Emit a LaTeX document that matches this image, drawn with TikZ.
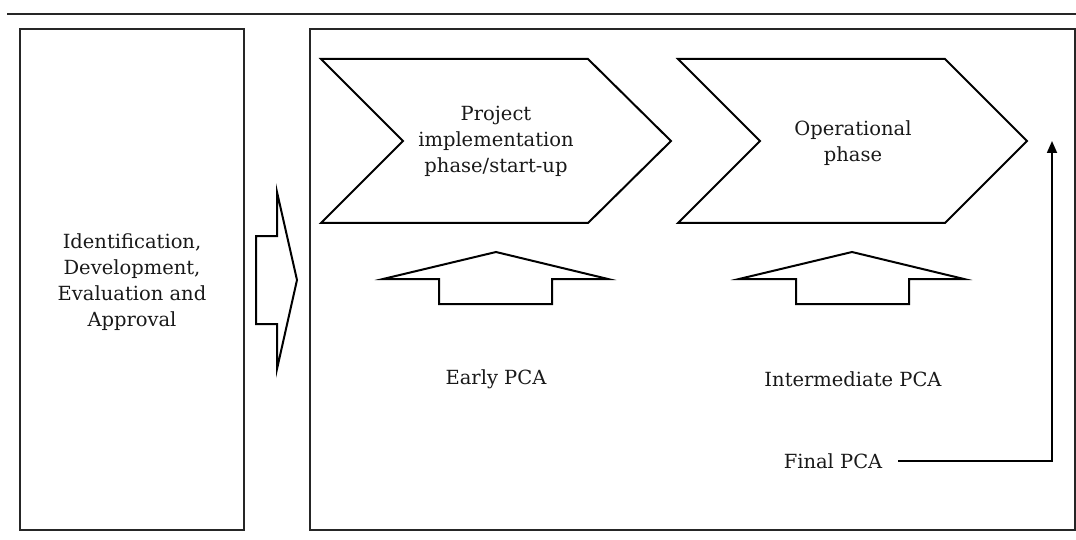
\documentclass[tikz,border=0pt]{standalone}
\usepackage{fontspec}
\setmainfont{DejaVu Serif}
\usetikzlibrary{arrows.meta}
\begin{document}
\begin{tikzpicture}[x=1pt,y=-1pt,
  frame/.style={draw=black!85,line width=2.4pt},
  outl/.style={draw=black,line width=2pt,line join=miter},
  lbl/.style={font=\fontsize{19.5}{26}\selectfont,align=center,inner sep=0pt,text=black!90},
  conn/.style={draw=black,line width=1.8pt,-{Triangle[length=12pt,width=10pt]}}]
\useasboundingbox (0,0) rectangle (1076,540);
% top rule
\draw[line width=2.2pt,black!85] (7,14) -- (1076,14);
% boxes
\draw[frame] (20,29) rectangle (244,530);
\draw[frame] (310,29) rectangle (1075,530);
\node[lbl] (left) at (132,282) {Identification,\\Development,\\Evaluation and\\Approval};
% big right arrow
\draw[outl] (256,236) -- (277,236) -- (277,192) -- (297,280) -- (277,369) -- (277,324) -- (256,324) -- cycle;
% chevrons
\draw[outl] (321,59) -- (588,59) -- (671,141) -- (588,223) -- (321,223) -- (403,141) -- cycle;
\draw[outl] (678,59) -- (945,59) -- (1027,141) -- (945,223) -- (678,223) -- (760,141) -- cycle;
\node[lbl] (ph1) at (496,141) {Project\\implementation\\phase/start-up};
\node[lbl] (ph2) at (853,143) {Operational\\phase};
% up arrows
\draw[outl] (383,279) -- (496,252) -- (608,279) -- (552,279) -- (552,304) -- (439,304) -- (439,279) -- cycle;
\draw[outl] (739,279) -- (852,252) -- (964,279) -- (909,279) -- (909,304) -- (796,304) -- (796,279) -- cycle;
\node[lbl] (early) at (496,379) {Early PCA};
\node[lbl] (inter) at (853,379) {Intermediate PCA};
\node[lbl] (final) at (833,461) {Final PCA};
\coordinate (top) at (1052,141);
\coordinate (fstart) at (898,461);
\draw[conn] (fstart) -- (fstart -| top) -- (top);
\end{tikzpicture}
\end{document}
